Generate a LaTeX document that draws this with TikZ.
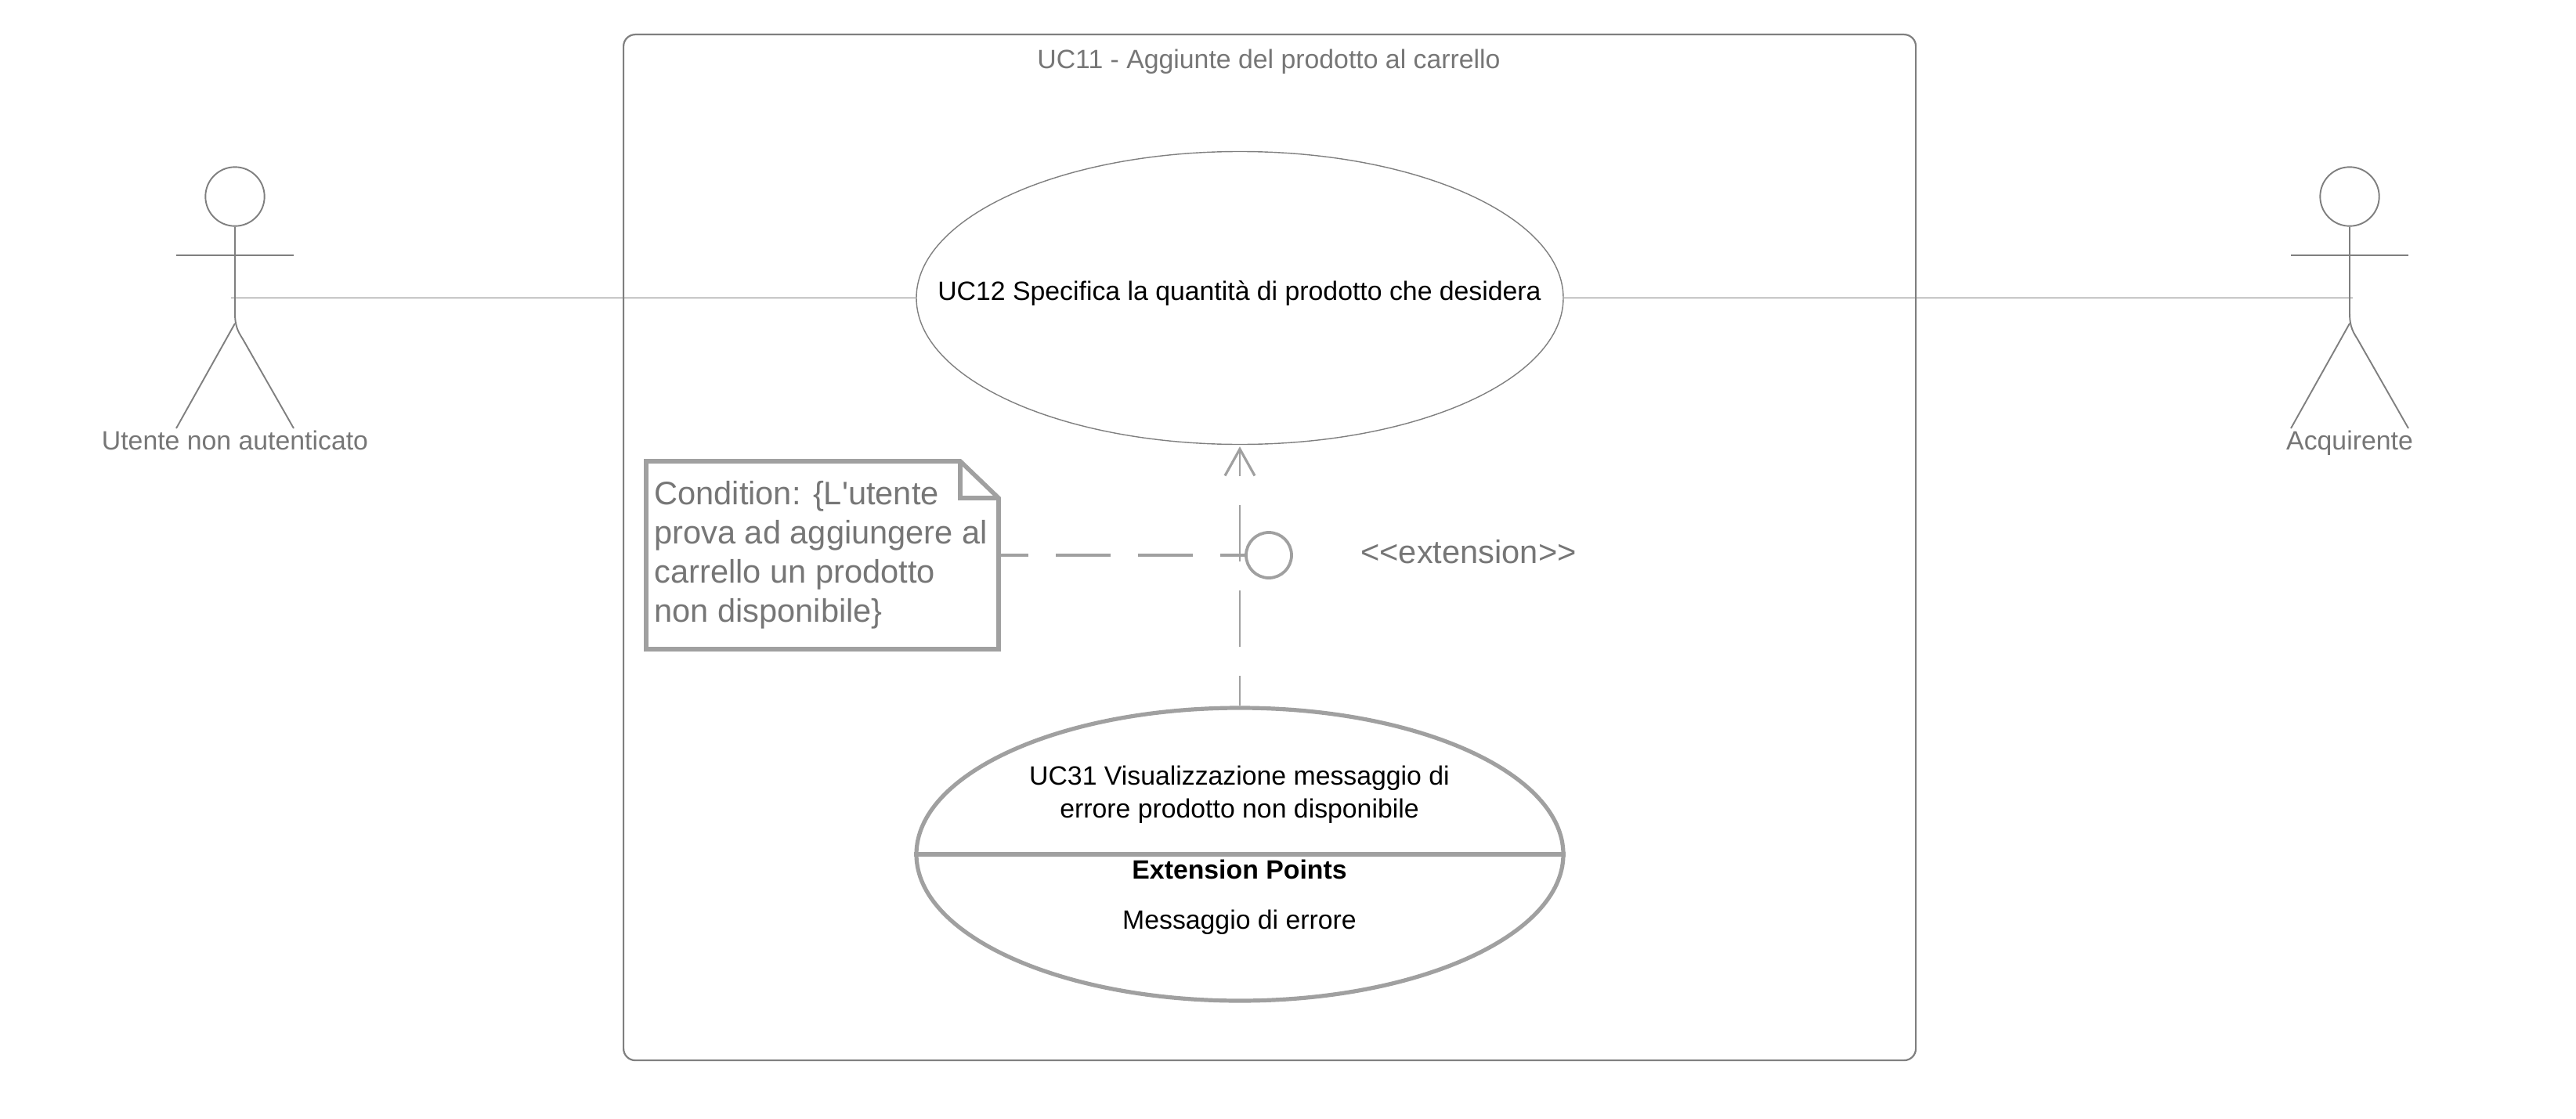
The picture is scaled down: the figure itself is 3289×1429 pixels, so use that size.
\documentclass[tikz,border=0pt]{standalone}
\usepackage{fontspec}
\setmainfont{Liberation Sans}[Ligatures=TeXOff]
\usetikzlibrary{arrows.meta,shapes.geometric}
\definecolor{framegrey}{HTML}{7F7F7F}
\definecolor{lightgrey}{HTML}{A0A0A0}
\definecolor{textgrey}{HTML}{767676}
\tikzset{
  x=0.5pt,y=-0.5pt,
  frameline/.style={draw=framegrey,line width=1.1pt},
  thinline/.style={draw=framegrey,line width=0.5pt},
  actorline/.style={draw=framegrey,line width=0.95pt},
  graytext/.style={text=textgrey,font=\fontsize{16.9}{20}\selectfont,inner sep=0pt},
  bigtext/.style={text=textgrey,font=\fontsize{20.8}{25}\selectfont,inner sep=0pt},
  blacktext/.style={text=black,font=\fontsize{16.9}{21}\selectfont,inner sep=0pt,align=center},
  usecase/.style={ellipse,draw=framegrey,line width=0.7pt,minimum width=413pt,minimum height=187pt,inner sep=0pt},
  usecasethick/.style={ellipse,draw=lightgrey,line width=2.6pt,minimum width=413pt,minimum height=187pt,inner sep=0pt},
}
\begin{document}
\begin{tikzpicture}
\useasboundingbox (0,0) rectangle (3289,1429);
% system frame
\node[frameline,rounded corners=7.5pt,minimum width=825pt,minimum height=655pt,inner sep=0pt,anchor=north west] (frame) at (795,43) {};
\node[graytext] (title) at (1620,79) {UC11 - Aggiunte del prodotto al carrello};
% use cases
\node[usecase] (uc12) at (1583,380.5) {};
\node[blacktext] (uc12t) at (1582.5,375) {UC12 Specifica la quantità di prodotto che desidera};
\node[usecasethick] (uc31) at (1583,1091) {};
\coordinate (divl) at (uc31.west);
\coordinate (divr) at (uc31.east);
\draw[lightgrey,line width=2.6pt] (divl) -- (divr);
\node[blacktext] (uc31t) at (1582.5,1015) {UC31 Visualizzazione messaggio di\\errore prodotto non disponibile};
\node[blacktext,font=\fontsize{16.9}{21}\selectfont\bfseries] (ep) at (1582.5,1110) {Extension Points};
\node[blacktext] (ept) at (1582.5,1178) {Messaggio di errore};
% left actor
\node[circle,actorline,minimum size=37.7pt,inner sep=0pt] (headl) at (300,251) {};
\coordinate (arml1) at (225,326);\coordinate (armr1) at (375,326);
\coordinate (spinel) at (300,400);\coordinate (hipl) at (300,413);
\coordinate (footl1) at (225,547);\coordinate (footr1) at (375,547);
\coordinate (portl) at (295,380.5);
\draw[actorline] (headl.south) -- (spinel) .. controls (300,418) and (305,425) .. (310,433) -- (footr1);
\draw[actorline] (arml1) -- (armr1);
\draw[actorline] (hipl) -- (footl1);
\node[graytext,anchor=base] (labl) at (300,574) {Utente non autenticato};
% right actor
\node[circle,actorline,minimum size=37.7pt,inner sep=0pt] (headr) at (3000,251) {};
\coordinate (arml2) at (2925,326);\coordinate (armr2) at (3075,326);
\coordinate (spiner) at (3000,400);\coordinate (hipr) at (3000,413);
\coordinate (footl2) at (2925,547);\coordinate (footr2) at (3075,547);
\coordinate (portr) at (3004,380.5);
\draw[actorline] (headr.south) -- (spiner) .. controls (3000,418) and (3005,425) .. (3010,433) -- (footr2);
\draw[actorline] (arml2) -- (armr2);
\draw[actorline] (hipr) -- (footl2);
\node[graytext,anchor=base] (labr) at (3000,574) {Acquirente};
% associations
\draw[thinline] (portl) -- (uc12.west);
\draw[thinline] (uc12.east) -- (portr);
% note
\coordinate (n1) at (825,589);\coordinate (n2) at (1226,589);\coordinate (n3) at (1275,636);\coordinate (n4) at (1275,829);\coordinate (n5) at (825,829);
\draw[lightgrey,line width=2.8pt] (n1) -- (n2) -- (n3) -- (n4) -- (n5) -- cycle;
\draw[lightgrey,line width=2.8pt] (n2) -- (1226,636) -- (n3);
\node[bigtext,align=left,anchor=north west] (note) at (835,614) {Condition: \{L'utente\\prova ad aggiungere al\\carrello un prodotto\\non disponibile\}};
% extension point circle
\node[circle,draw=lightgrey,line width=1.9pt,minimum size=29pt,inner sep=0pt] (ext) at (1620,709) {};
\node[bigtext] (exl) at (1875,705) {<<extension>>};
\draw[lightgrey,line width=2.2pt,dash pattern=on 35pt off 17.5pt,dash phase=17.5pt] (1278,709) -- (ext.west);
\draw[lightgrey,line width=1pt,shorten >=1pt,dash pattern=on 36pt off 18.5pt,dash phase=17pt,-{Straight Barb[length=17pt,width=19pt,line width=1.6pt]}] (uc31.north) -- (uc12.south);
\end{tikzpicture}
\end{document}
